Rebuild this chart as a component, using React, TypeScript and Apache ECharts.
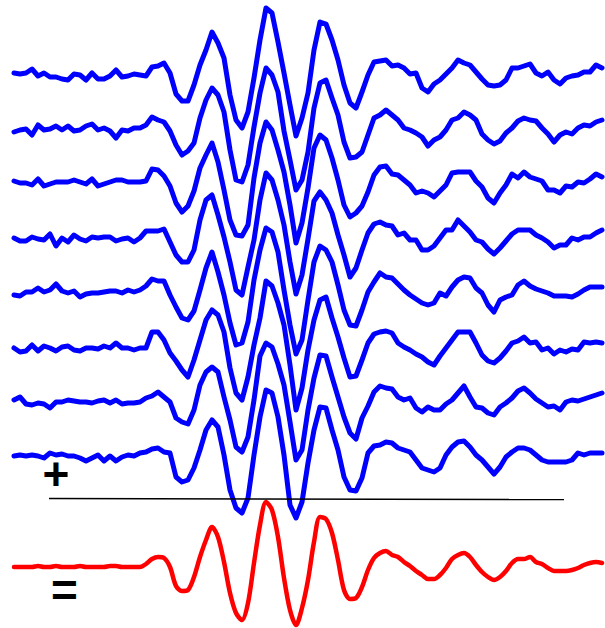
import React, { useEffect, useRef } from "react";
import * as echarts from "echarts";

// Sample index along the time axis (99 samples, evenly spaced)
const SAMPLES: number[] = Array.from({ length: 99 }, (_, i) => i);

// Vertical baseline (pixel row) of each trace, top to bottom
const BLUE_BASELINES = [75, 130, 183, 239, 294, 348, 401, 455];
const RED_BASELINE = 567;

// Amplitudes (upward positive) of the eight noisy single trials
const TRIAL1 = [
  2, 1, 2, 6, -1, 2, -2, -2, -4, -5,
  1, 0, -5, 2, -4, -4, -1, 5, -2, -1,
  1, 0, -1, 8, 9, 12, 2, -19, -26, -26,
  -10, 10, 25, 43, 32, 17, -20, -45, -53, -37,
  -3, 35, 67, 62, 33, 2, -30, -61, -43, -18,
  25, 53, 51, 35, 15, -10, -28, -33, -17, 0,
  13, 14, 15, 9, 10, 7, 1, 2, -13, -17,
  -9, -5, 1, 7, 15, 12, 10, 3, -4, -10,
  -11, -10, -5, 7, 7, 9, 11, 2, -1, 3,
  -5, -9, -3, -1, 0, 3, 3, 10, 7,
];
const TRIAL2 = [
  -2, 0, 1, -5, 5, 0, 1, 4, 0, 4,
  -1, 0, 4, 6, 0, 2, -1, -8, 0, -1,
  2, 2, 5, 13, 10, 8, -1, -15, -25, -21,
  -13, 12, 30, 42, 35, 18, -20, -50, -52, -35,
  3, 37, 62, 55, 38, -1, -30, -60, -50, -22,
  22, 47, 50, 32, 15, -12, -28, -27, -22, -5,
  12, 15, 20, 15, 10, 2, 0, -3, -7, -16,
  -10, -7, 0, 10, 12, 18, 15, 10, -4, -10,
  -14, -11, -3, 2, 9, 12, 10, 9, 2, -4,
  -12, -5, -2, -4, 2, 5, 4, 8, 10,
];
const TRIAL3 = [
  2, 0, 0, -2, 4, -3, -1, 1, 1, 1,
  3, 1, -1, 4, -3, -1, 1, 3, 3, 1,
  1, 1, 2, 14, 13, 7, -3, -20, -29, -23,
  -8, 15, 28, 40, 21, -7, -37, -52, -53, -42,
  5, 40, 61, 53, 33, 11, -22, -60, -40, -5,
  35, 48, 43, 25, 3, -22, -34, -30, -23, -9,
  8, 16, 17, 9, 8, 3, -2, -10, -8, -10,
  -14, -8, -2, 10, 11, 11, 11, 2, -4, -15,
  -20, -10, -2, 9, 5, 11, 6, 4, 2, -7,
  -7, -10, -3, -4, 1, 0, 4, 9, 6,
];
const TRIAL4 = [
  1, -2, -2, 2, 0, -1, 5, -7, 1, -3,
  4, 0, -2, 2, 1, 2, 2, -2, 0, 1,
  -3, 1, 8, 8, 8, 10, -3, -16, -23, -23,
  -11, 19, 39, 44, 24, 2, -23, -51, -56, -28,
  -1, 39, 66, 59, 39, 14, -23, -55, -36, 0,
  38, 47, 39, 26, 4, -16, -38, -29, -11, 6,
  15, 17, 14, 13, 4, 6, -1, -1, -11, -11,
  -7, 1, 9, 9, 19, 13, 7, -1, -3, -10,
  -15, -9, -2, 5, 9, 9, 9, 4, 1, -3,
  -9, -6, -6, 1, -1, 2, 2, 6, 9,
];
const TRIAL5 = [
  -1, -2, 2, 2, 6, 2, 4, 10, 3, 1,
  3, -3, 0, 1, 1, 2, 3, 3, 1, 4,
  2, 4, 8, 15, 13, 13, -1, -13, -24, -26,
  -17, 4, 26, 42, 22, -1, -29, -51, -49, -28,
  14, 44, 66, 62, 42, 4, -31, -60, -46, -6,
  32, 48, 44, 32, 9, -16, -31, -32, -16, 2,
  12, 21, 17, 16, 10, 4, -1, -5, -9, -11,
  -9, 1, -2, 7, 14, 17, 16, 6, 1, -11,
  -18, -6, -3, -1, 9, 13, 8, 5, 3, 1,
  -2, -2, -2, -3, 0, 4, 7, 7, 7,
];
const TRIAL6 = [
  0, -4, -3, 3, -3, 2, 0, -3, 1, 2,
  -2, -3, 0, 0, -1, 2, 0, 5, 0, 0,
  -2, 0, 0, 16, 16, 8, -5, -13, -22, -29,
  -12, 8, 28, 38, 33, 16, -20, -45, -52, -29,
  3, 30, 67, 62, 45, 23, -17, -62, -40, -2,
  28, 48, 51, 30, 11, -10, -29, -28, -12, 5,
  14, 16, 17, 15, 5, 1, -2, -6, -9, -14,
  -17, -8, 0, 8, 16, 16, 16, 5, -7, -13,
  -15, -10, -3, 5, 7, 11, 5, 6, -2, 0,
  -6, -2, -4, -1, -2, 6, 5, 6, 5,
];
const TRIAL7 = [
  1, 4, -3, -4, -2, -3, -7, -1, -1, 1,
  0, -1, -1, -2, 0, 1, -2, 1, -3, -2,
  -2, -1, 3, 5, 9, 4, -1, -17, -21, -23,
  -9, 16, 29, 34, 29, 4, -19, -46, -51, -36,
  1, 45, 58, 54, 37, 16, -21, -59, -49, -9,
  23, 46, 45, 24, 4, -16, -32, -38, -17, -5,
  9, 15, 13, 12, 4, 1, 3, -7, -11, -6,
  -9, -9, -3, 1, 8, 15, 4, -6, -7, -12,
  -14, -6, -2, 3, 10, 13, 8, 2, -2, -6,
  -5, -9, -1, 1, 0, 2, 4, 6, 8,
];
const TRIAL8 = [
  -1, 0, -1, 0, -1, -3, 2, 0, 1, -1,
  -1, -3, -6, -3, 0, -6, -1, -6, -2, 0,
  -1, 2, 3, 6, 7, 3, 2, -22, -27, -25,
  -13, 5, 25, 35, 28, 0, -35, -53, -58, -43,
  0, 38, 65, 62, 38, 0, -50, -63, -47, -8,
  25, 48, 47, 25, 5, -22, -35, -36, -23, 2,
  9, 10, 13, 12, 7, 5, 3, -5, -13, -15,
  -17, -13, 0, 8, 13, 14, 8, 0, -5, -12,
  -19, -12, -2, 3, 7, 7, 5, 0, -5, -7,
  -7, -7, -7, -5, 2, 0, 2, 2, 2,
];

// Averaged response
const AVERAGE = [
  0, 0, 0, 0, 1, 0, 0, 1, 0, 0,
  0, 1, 0, 0, 0, 0, 1, 1, 0, 0,
  0, 0, 3, 8, 10, 9, 0, -19, -24, -23,
  -10, 10, 27, 40, 30, 5, -26, -46, -53, -36,
  4, 42, 65, 57, 30, -11, -43, -58, -41, -13,
  25, 50, 48, 34, 7, -23, -32, -31, -20, -3,
  9, 14, 16, 12, 10, 5, 1, -4, -8, -12,
  -12, -8, -1, 8, 12, 14, 10, 2, -5, -10,
  -13, -10, -4, 4, 8, 8, 10, 5, 3, -1,
  -4, -4, -4, -3, -1, 2, 4, 5, 4,
];

const TRIALS = [TRIAL1, TRIAL2, TRIAL3, TRIAL4, TRIAL5, TRIAL6, TRIAL7, TRIAL8];

const PLUS_LABEL = "+";
const EQUALS_LABEL = "=";

export default function App() {
  const ref = useRef<HTMLDivElement>(null);

  useEffect(() => {
    if (!ref.current) return;
    const chart = echarts.init(ref.current, undefined, { renderer: "svg" });

    const blueSeries = TRIALS.map((trial, k) => ({
      type: "line",
      data: trial.map((v) => BLUE_BASELINES[k] - v),
      symbol: "none",
      smooth: false,
      silent: true,
      lineStyle: { color: "#0000FF", width: 5, join: "round", cap: "round" },
    }));

    const redSeries = {
      type: "line",
      data: AVERAGE.map((v) => RED_BASELINE - v),
      symbol: "none",
      smooth: 0.3,
      silent: true,
      lineStyle: { color: "#FF0000", width: 4.5, join: "round", cap: "round" },
    };

    chart.setOption({
      animation: false,
      backgroundColor: "#ffffff",
      grid: { left: 14, right: 3, top: 0, bottom: 0 },
      xAxis: {
        type: "category",
        data: SAMPLES,
        boundaryGap: false,
        show: false,
      },
      yAxis: {
        type: "value",
        min: 0,
        max: 628,
        inverse: true,
        show: false,
      },
      series: [...blueSeries, redSeries],
      graphic: [
        {
          type: "line",
          shape: { x1: 49, y1: 498.5, x2: 564, y2: 499.5 },
          style: { stroke: "#000000", lineWidth: 1.5 },
          z: 100,
        },
        {
          type: "text",
          x: 56,
          y: 474,
          style: {
            text: PLUS_LABEL,
            fontFamily: '"Liberation Sans", Arial, sans-serif',
            fontWeight: "bold",
            fontSize: 46,
            fill: "#000000",
            align: "center",
            verticalAlign: "middle",
          },
          z: 100,
        },
        {
          type: "text",
          x: 64.5,
          y: 590,
          style: {
            text: EQUALS_LABEL,
            fontFamily: '"Liberation Sans", Arial, sans-serif',
            fontWeight: "bold",
            fontSize: 46,
            fill: "#000000",
            align: "center",
            verticalAlign: "middle",
          },
          z: 100,
        },
      ],
    });

    return () => chart.dispose();
  }, []);

  return (
    <div
      ref={ref}
      style={{ position: "absolute", left: 0, top: 0, width: 605, height: 628 }}
    />
  );
}
